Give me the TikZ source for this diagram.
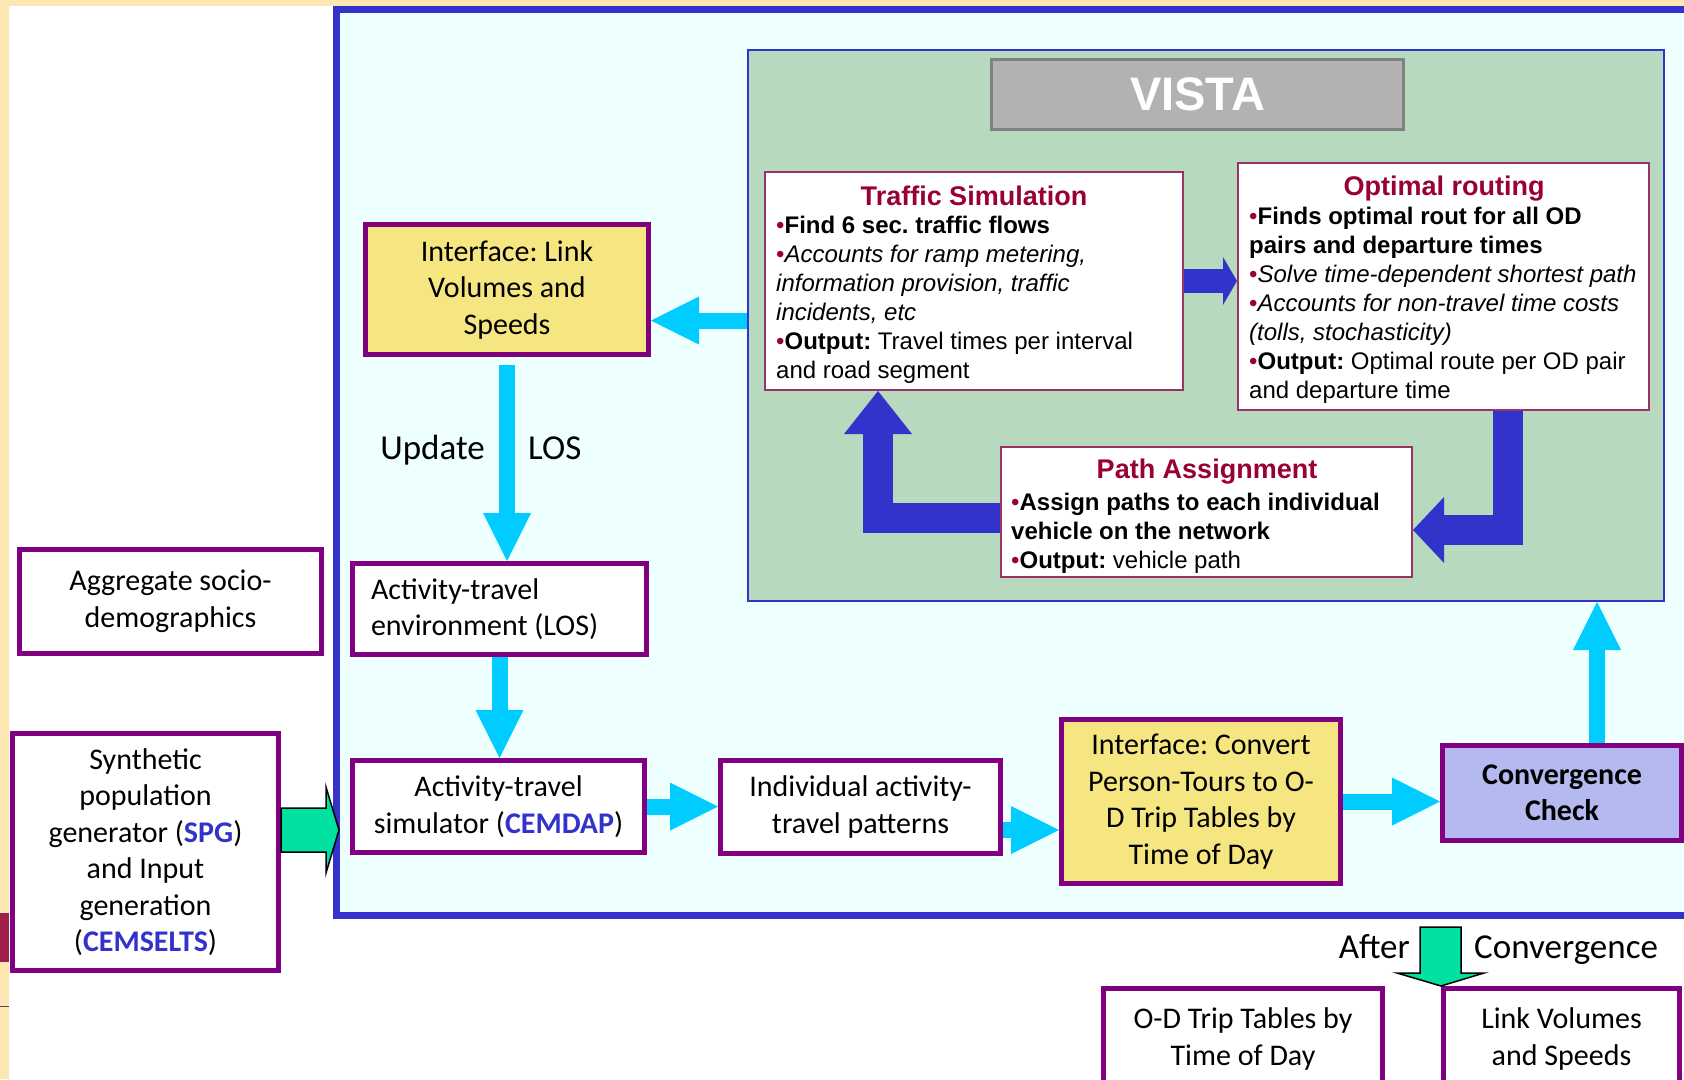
\documentclass[tikz,border=0pt]{standalone}
\usepackage{fontspec}
\setmainfont{Carlito}
\newfontfamily\arialfont{Liberation Sans}
\usetikzlibrary{arrows.meta,calc}
\frenchspacing

\definecolor{slideorange}{RGB}{253,230,178}
\definecolor{slidered}{RGB}{160,30,74}
\definecolor{frameblue}{RGB}{51,51,204}
\definecolor{framefill}{RGB}{238,255,255}
\definecolor{vistagreen}{RGB}{183,218,190}
\definecolor{titlefill}{RGB}{178,178,178}
\definecolor{titlegray}{RGB}{128,128,128}
\definecolor{vborder}{RGB}{153,51,102}
\definecolor{vred}{RGB}{153,0,51}
\definecolor{boxpurple}{RGB}{128,0,128}
\definecolor{boxyellow}{RGB}{245,230,130}
\definecolor{boxlilac}{RGB}{180,186,240}
\definecolor{arrowcyan}{RGB}{0,204,255}
\definecolor{arrowgreen}{RGB}{0,224,160}

\newcommand{\bul}{\textcolor{vred}{•}}
\newcommand{\tool}[1]{\textcolor{frameblue}{\textbf{#1}}}

\tikzset{
  pbox/.style={draw=boxpurple, line width=5pt, fill=white, align=center, inner sep=0pt,
    font=\fontsize{30}{36.5}\selectfont},
  ybox/.style={pbox, fill=boxyellow},
  vbox/.style={draw=vborder, line width=2pt, fill=white},
  vtitle/.style={anchor=base, inner sep=0pt, text=vred,
    font=\arialfont\bfseries\fontsize{27}{32}\selectfont},
  vtext/.style={anchor=base west, inner sep=0pt, text width=400pt, align=flush left,
    font=\arialfont\fontsize{24}{29}\selectfont},
  lbl/.style={inner sep=0pt, font=\fontsize{35}{42}\selectfont},
  cyanarrow/.style={draw=arrowcyan, line width=16pt,
    -{Triangle[width=48pt,length=48pt,line width=0pt]}},
  bluearrow/.style={draw=frameblue, line width=30pt, line join=miter},
  greenarrow/.style={fill=arrowgreen, draw=black, line width=1.5pt, line join=miter},
}

\begin{document}
\begin{tikzpicture}[x=1pt,y=-1pt]
\useasboundingbox (0,0) rectangle (1684,1079);
% slide background
\fill[white] (0,0) rectangle (1684,1079);
\fill[slideorange] (0,0) rectangle (1684,6);
\fill[slideorange] (0,0) rectangle (9,1079);
\fill[slidered] (0,913) rectangle (9,962);
\draw[black!70, line width=1pt] (0,1006) -- (9,1006);

% outer frame
\draw[draw=frameblue, line width=7pt, fill=framefill] (336.5,9) rectangle (1720,915);

% VISTA block
\node[draw=frameblue, line width=2pt, fill=vistagreen, minimum width=916pt, minimum height=551pt] (vista) at (1206,325.5) {};
\node[draw=titlegray, line width=3pt, fill=titlefill, minimum width=412pt, minimum height=70pt,
  text=white, font=\arialfont\bfseries\fontsize{47}{50}\selectfont] (vistatitle) at (1197.5,94.5) {VISTA};

\node[vbox, minimum width=418pt, minimum height=218pt] (ts) at (974,281) {};
\node[vtitle] (tstitle) at (974,205) {Traffic Simulation};
\node[vtext] (tstext) at (776,233) {\bul\textbf{Find 6 sec. traffic flows}\\
  \bul\textit{Accounts for ramp metering,}\\
  \textit{information provision, traffic}\\
  \textit{incidents, etc}\\
  \bul\textbf{Output:} Travel times per interval\\
  and road segment};

\node[vbox, minimum width=411pt, minimum height=247pt] (opt) at (1443.5,286.5) {};
\node[vtitle] (opttitle) at (1444,195) {Optimal routing};
\node[vtext] (opttext) at (1249,224) {\bul\textbf{Finds optimal rout for all OD}\\
  \textbf{pairs and departure times}\\
  \bul\textit{Solve time-dependent shortest path}\\
  \bul\textit{Accounts for non-travel time costs}\\
  \textit{(tolls, stochasticity)}\\
  \bul\textbf{Output:} Optimal route per OD pair\\
  and departure time};

\node[vbox, minimum width=411pt, minimum height=130pt] (pa) at (1206.5,512) {};
\node[vtitle] (patitle) at (1207,478) {Path Assignment};
\node[vtext] (patext) at (1011,510) {\bul\textbf{Assign paths to each individual}\\
  \textbf{vehicle on the network}\\
  \bul\textbf{Output:} vehicle path};

% VISTA loop
\draw[bluearrow, line width=24pt, -{Triangle[width=48pt,length=14pt,line width=0pt]}] (ts.east) -- (ts.east -| opt.west);
\draw[bluearrow, -{Triangle[width=66pt,length=31pt,line width=0pt]}] ([xshift=64.5pt]opt.south) |- ([yshift=-18pt]pa.east);
\draw[bluearrow, -{Triangle[width=68pt,length=43pt,line width=0pt]}] ([yshift=-5.5pt]pa.west) -| ([xshift=-96pt]ts.south);

% model chain
\node[ybox, minimum width=283pt, minimum height=130pt] (il) at (507,289.5) {Interface: Link\\Volumes and\\Speeds};
\node[pbox, minimum width=294pt, minimum height=91pt, text width=257pt, align=flush left] (env) at (499.5,609) {Activity-travel\\environment (LOS)};
\node[pbox, minimum width=292pt, minimum height=92pt] (sim) at (498.5,806.5) {Activity-travel\\simulator (\tool{CEMDAP})};
\node[pbox, minimum width=302pt, minimum height=104pt] (agg) at (170.5,601.5) {Aggregate socio-\\demographics};
\node[pbox, minimum width=266pt, minimum height=237pt] (syn) at (145.5,852) {Synthetic\\population\\generator (\tool{SPG})\\and Input\\generation\\(\tool{CEMSELTS})};
\node[pbox, minimum width=280pt, minimum height=93pt] (ind) at (860.5,807) {Individual activity-\\travel patterns};
\node[ybox, minimum width=279pt, minimum height=164pt] (conv) at (1201,801.5) {Interface: Convert\\Person-Tours to O-\\D Trip Tables by\\Time of Day};
\node[pbox, fill=boxlilac, font=\bfseries\fontsize{30}{36.5}\selectfont, minimum width=239pt, minimum height=95pt] (chk) at (1562,793) {Convergence\\Check};
\node[pbox, minimum width=279pt, minimum height=101pt] (odt) at (1243,1039) {O-D Trip Tables by\\Time of Day};
\node[pbox, minimum width=236pt, minimum height=101pt] (lvs) at (1561.5,1039) {Link Volumes\\and Speeds};

\coordinate (ilin) at ([yshift=-31pt]il.east);
\draw[cyanarrow] (vista.west |- ilin) -- (ilin);
\draw[cyanarrow] ([yshift=-8pt]il.south) -- (il.south |- env.north);
\node[lbl, anchor=base east] (update) at (485,459) {Update};
\node[lbl, anchor=base west] (updatelos) at (528,459) {LOS};
\draw[cyanarrow] (env.south) -- (env.south |- sim.north);
\draw[cyanarrow] (sim.east) -- (sim.east -| ind.west);
\coordinate (indout) at ([yshift=-23pt]ind.east);
\draw[cyanarrow] (indout) -- (indout -| conv.west);
\draw[cyanarrow] (conv.east) -- (conv.east -| chk.west);
\coordinate (chkout) at ([xshift=35pt]chk.north);
\draw[cyanarrow] (chkout) -- (chkout |- vista.south);

% inputs and outputs
\coordinate (synout) at ([yshift=22pt]syn.east);
\draw[greenarrow] (synout) ++(0,-22) -- ++(45,0) -- ++(0,-21) -- ++(13,43) -- ++(-13,43) -- ++(0,-21) -- ++(-45,0) -- cycle;
\draw[greenarrow] (lvs.north west) -- ++(-44,-13) -- ++(23,0) -- ++(0,-46) -- ++(41,0) -- ++(0,46) -- ++(23,0) -- cycle;
\node[lbl, anchor=base east] (after) at (1410,958) {After};
\node[lbl, anchor=base west] (afterconv) at (1474,958) {Convergence};
\end{tikzpicture}
\end{document}
